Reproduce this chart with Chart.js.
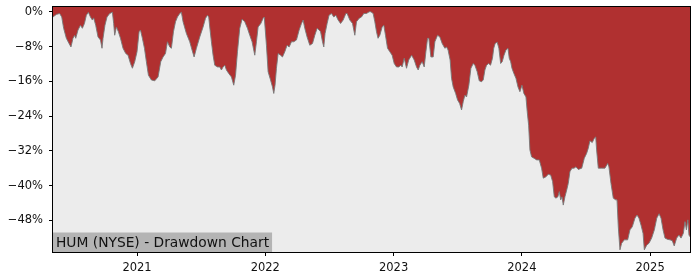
<!DOCTYPE html>
<html>
<head>
<meta charset="utf-8">
<script src="https://cdn.jsdelivr.net/npm/chart.js@4"></script>
<style>
  html, body { margin: 0; padding: 0; background: #fff; }
  #wrap { width: 700px; height: 280px; }
</style>
</head>
<body>
<div id="wrap"><canvas id="ddChart" width="700" height="280"></canvas></div>
<script>
// ── Data (decimal years / drawdown %) ───────────────────────────────────────
const dates = [
  2020.345, 2020.371, 2020.397, 2020.413, 2020.428, 2020.449, 2020.470, 2020.485, 2020.501, 2020.514,
  2020.522, 2020.540, 2020.559, 2020.574, 2020.590, 2020.605, 2020.621, 2020.637, 2020.652, 2020.662,
  2020.678, 2020.696, 2020.715, 2020.727, 2020.735, 2020.750, 2020.766, 2020.787, 2020.808, 2020.818,
  2020.826, 2020.839, 2020.855, 2020.871, 2020.891, 2020.912, 2020.930, 2020.949, 2020.964, 2020.982,
  2021.000, 2021.016, 2021.027, 2021.042, 2021.058, 2021.073, 2021.089, 2021.112, 2021.138, 2021.164,
  2021.185, 2021.203, 2021.222, 2021.237, 2021.255, 2021.268, 2021.284, 2021.300, 2021.315, 2021.333,
  2021.346, 2021.359, 2021.385, 2021.411, 2021.429, 2021.445, 2021.463, 2021.489, 2021.515, 2021.534,
  2021.549, 2021.559, 2021.567, 2021.580, 2021.593, 2021.606, 2021.627, 2021.645, 2021.658, 2021.671,
  2021.684, 2021.697, 2021.715, 2021.736, 2021.754, 2021.768, 2021.783, 2021.801, 2021.819, 2021.840,
  2021.861, 2021.879, 2021.897, 2021.918, 2021.931, 2021.944, 2021.965, 2021.983, 2021.992, 2022.009,
  2022.022, 2022.041, 2022.056, 2022.066, 2022.076, 2022.087, 2022.100, 2022.119, 2022.134, 2022.152,
  2022.170, 2022.186, 2022.204, 2022.222, 2022.243, 2022.264, 2022.282, 2022.295, 2022.308, 2022.326,
  2022.347, 2022.368, 2022.386, 2022.404, 2022.420, 2022.431, 2022.446, 2022.456, 2022.466, 2022.482,
  2022.497, 2022.516, 2022.534, 2022.550, 2022.568, 2022.587, 2022.607, 2022.628, 2022.638, 2022.659,
  2022.680, 2022.698, 2022.711, 2022.732, 2022.750, 2022.768, 2022.789, 2022.810, 2022.823, 2022.841,
  2022.854, 2022.867, 2022.879, 2022.893, 2022.911, 2022.924, 2022.937, 2022.953, 2022.971, 2022.989,
  2023.005, 2023.023, 2023.041, 2023.057, 2023.067, 2023.083, 2023.101, 2023.118, 2023.141, 2023.161,
  2023.179, 2023.192, 2023.205, 2023.223, 2023.239, 2023.252, 2023.265, 2023.275, 2023.291, 2023.309,
  2023.322, 2023.343, 2023.361, 2023.379, 2023.400, 2023.413, 2023.425, 2023.441, 2023.452, 2023.465,
  2023.484, 2023.499, 2023.515, 2023.530, 2023.543, 2023.556, 2023.569, 2023.587, 2023.603, 2023.621,
  2023.634, 2023.652, 2023.668, 2023.686, 2023.699, 2023.712, 2023.725, 2023.741, 2023.756, 2023.771,
  2023.781, 2023.792, 2023.808, 2023.821, 2023.835, 2023.847, 2023.861, 2023.876, 2023.892, 2023.902,
  2023.913, 2023.923, 2023.938, 2023.954, 2023.970, 2023.985, 2024.001, 2024.016, 2024.032, 2024.042,
  2024.053, 2024.063, 2024.076, 2024.094, 2024.116, 2024.136, 2024.154, 2024.167, 2024.188, 2024.206,
  2024.225, 2024.240, 2024.253, 2024.266, 2024.281, 2024.292, 2024.303, 2024.313, 2024.323, 2024.336,
  2024.350, 2024.362, 2024.375, 2024.391, 2024.407, 2024.422, 2024.440, 2024.467, 2024.487, 2024.505,
  2024.518, 2024.531, 2024.549, 2024.565, 2024.576, 2024.583, 2024.596, 2024.622, 2024.648, 2024.669,
  2024.679, 2024.695, 2024.713, 2024.732, 2024.742, 2024.752, 2024.765, 2024.778, 2024.799, 2024.825,
  2024.843, 2024.861, 2024.882, 2024.898, 2024.913, 2024.929, 2024.945, 2024.955, 2024.974, 2024.991,
  2025.012, 2025.033, 2025.052, 2025.070, 2025.085, 2025.101, 2025.116, 2025.137, 2025.155, 2025.173,
  2025.188, 2025.207, 2025.225, 2025.241, 2025.259, 2025.272, 2025.283, 2025.294, 2025.303, 2025.311
];
const drawdown = [
  -1.2, -0.6, -0.4, -1.2, -3.8, -6.1, -7.3, -8.1, -6.1, -5.4,
  -6.1, -4.2, -3.1, -3.8, -2.7, -0.8, -0.1, -1.2, -1.9, -1.4,
  -3.1, -5.8, -6.5, -8.4, -6.1, -3.1, -1.2, -0.4, -0.1, -2.7,
  -5.4, -3.5, -4.6, -6.1, -8.4, -9.6, -10.0, -11.9, -13.0, -11.5,
  -9.2, -4.6, -4.2, -6.1, -8.4, -11.5, -14.6, -15.7, -15.9, -15.0,
  -11.5, -10.4, -9.6, -6.9, -8.1, -8.4, -4.6, -2.3, -1.2, -0.4,
  -0.1, -2.3, -5.0, -6.9, -8.8, -10.4, -8.4, -5.8, -3.5, -1.5,
  -0.8, -1.2, -3.5, -6.9, -10.0, -12.3, -12.7, -12.7, -13.4, -12.7,
  -12.3, -13.4, -14.2, -15.0, -16.9, -14.6, -9.2, -3.8, -1.7, -2.3,
  -3.8, -5.4, -6.9, -10.0, -6.9, -3.5, -2.7, -1.5, -1.2, -7.7,
  -13.8, -15.7, -17.3, -18.8, -16.9, -13.0, -9.6, -10.0, -10.4, -9.2,
  -7.7, -8.1, -6.9, -6.9, -6.5, -4.2, -2.7, -1.9, -3.8, -5.8,
  -7.7, -7.3, -5.4, -3.8, -4.2, -4.6, -6.9, -8.1, -5.0, -2.7,
  -0.8, -0.4, -1.2, -0.8, -1.9, -2.7, -1.9, -0.4, -0.4, -1.9,
  -2.7, -5.4, -2.3, -1.5, -1.2, -0.4, -0.4, 0, 0, -0.4,
  -2.3, -4.6, -6.1, -5.4, -3.5, -3.1, -5.4, -8.4, -9.2, -10.0,
  -11.9, -12.7, -12.7, -12.3, -12.7, -10.7, -13.0, -11.1, -10.0, -11.1,
  -12.7, -13.4, -12.3, -11.5, -12.7, -9.2, -6.1, -6.1, -10.4, -10.4,
  -6.9, -5.4, -5.8, -7.3, -8.4, -8.1, -8.8, -11.1, -15.3, -17.3,
  -18.8, -20.3, -21.1, -22.6, -20.7, -19.2, -19.6, -16.9, -13.0, -11.9,
  -12.3, -13.8, -15.9, -16.1, -15.7, -13.4, -12.3, -11.9, -12.3, -10.7,
  -8.4, -7.3, -7.0, -8.4, -11.9, -11.5, -10.0, -8.8, -8.4, -10.7,
  -11.5, -13.0, -14.2, -15.3, -17.3, -18.4, -16.9, -18.8, -19.6, -23.0,
  -26.1, -31.8, -33.4, -33.7, -34.1, -34.1, -36.0, -38.3, -38.0, -37.4,
  -37.6, -39.1, -42.6, -42.9, -42.6, -41.4, -43.3, -42.6, -44.5, -42.6,
  -41.0, -39.5, -36.8, -36.0, -36.0, -35.7, -36.3, -36.0, -33.7, -32.6,
  -31.4, -29.7, -30.1, -29.1, -28.8, -31.8, -36.0, -36.0, -36.0, -34.9,
  -35.7, -39.5, -42.9, -43.3, -43.3, -49.5, -54.8, -53.3, -52.5, -52.5,
  -50.2, -49.5, -47.5, -46.8, -47.5, -49.1, -51.0, -54.8, -53.7, -53.3,
  -52.1, -50.2, -47.5, -46.5, -47.5, -50.2, -52.1, -52.4, -52.5, -52.7,
  -53.9, -52.1, -51.4, -52.1, -51.0, -48.3, -50.2, -47.9, -51.4, -51.8
];
const yTicks = [0, -8, -16, -24, -32, -40, -48];
const xTicks = [2021, 2022, 2023, 2024, 2025];
const title = "HUM (NYSE) - Drawdown Chart";

function pct(v) { return v === 0 ? "0%" : "\u2212" + Math.abs(v) + "%"; }

// background, frame and label box
const decor = {
  id: "decor",
  beforeDatasetsDraw(c) {
    const a = c.chartArea, ctx = c.ctx;
    ctx.save();
    ctx.fillStyle = "#ececec";
    ctx.fillRect(a.left, a.top, a.right - a.left, a.bottom - a.top);
    ctx.restore();
  },
  afterDraw(c) {
    const a = c.chartArea, ctx = c.ctx;
    ctx.save();
    ctx.font = "13.8px 'DejaVu Sans'";
    const w = ctx.measureText(title).width;
    ctx.fillStyle = "#b4b4b4";
    ctx.fillRect(a.left, a.bottom - 19.5, w + 6, 19.5);
    ctx.fillStyle = "#111";
    ctx.textBaseline = "alphabetic";
    ctx.fillText(title, a.left + 3, a.bottom - 5);
    ctx.strokeStyle = "#000";
    ctx.lineWidth = 1;
    ctx.strokeRect(Math.round(a.left) - 0.5, Math.round(a.top) - 0.5, Math.round(a.right - a.left) + 1, Math.round(a.bottom - a.top) + 1);
    ctx.restore();
  }
};

const tickFont = { family: "'DejaVu Sans'", size: 11.5 };

new Chart(document.getElementById("ddChart").getContext("2d"), {
  type: "line",
  data: {
    datasets: [{
      data: dates.map((d, i) => ({ x: d, y: drawdown[i] })),
      borderColor: "rgba(120,120,120,0.9)",
      borderWidth: 1,
      backgroundColor: "#b03030",
      fill: "end",
      pointRadius: 0,
      tension: 0
    }]
  },
  options: {
    responsive: false, animation: false, devicePixelRatio: 1,
    layout: { padding: { left: 0, right: 10, top: 7, bottom: 0 } },
    plugins: { legend: { display: false }, tooltip: { enabled: false } },
    scales: {
      x: {
        type: "linear", min: 2020.345, max: 2025.311,
        afterBuildTicks: s => { s.ticks = xTicks.map(v => ({ value: v })); },
        afterFit: s => { s.height = 28; s.paddingLeft = 0; s.paddingRight = 0; },
        ticks: { color: "#111", font: tickFont, padding: 5, autoSkip: false, maxRotation: 0, callback: v => String(v) },
        grid: { drawOnChartArea: false, drawTicks: true, tickLength: 4, color: "#000" },
        border: { display: true, color: "#000" }
      },
      y: {
        min: -55.3, max: 1.1,
        afterBuildTicks: s => { s.ticks = yTicks.map(v => ({ value: v })); },
        afterFit: s => { s.width = 53; s.paddingTop = 0; s.paddingBottom = 0; },
        ticks: { color: "#111", font: tickFont, padding: 6, autoSkip: false, callback: v => pct(v) },
        grid: { drawOnChartArea: false, drawTicks: true, tickLength: 4, color: "#000" },
        border: { display: true, color: "#000" }
      }
    }
  },
  plugins: [decor]
});
</script>
</body>
</html>
